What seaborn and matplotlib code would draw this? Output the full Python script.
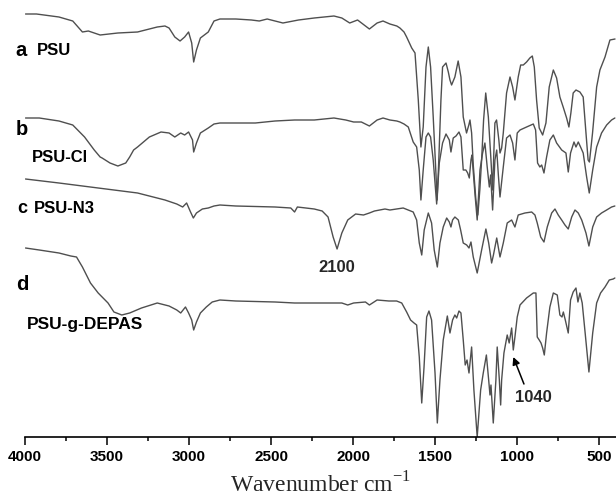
import matplotlib
matplotlib.use("Agg")
import matplotlib.pyplot as plt
import seaborn as sns

# ---------------- data (wavenumber cm-1, stacked-offset depth; larger = lower on page) -------------
a_wn = [3997, 3930, 3793, 3709, 3650, 3614, 3578, 3542, 3434, 3314,
        3194, 3147, 3122, 3087, 3055, 3027, 3003, 2984, 2972, 2955,
        2931, 2883, 2848, 2812, 2715, 2620, 2572, 2524, 2428, 2333,
        2237, 2117, 2069, 2021, 1973, 1901, 1854, 1818, 1776, 1734,
        1715, 1690, 1674, 1643, 1623, 1603, 1587, 1573, 1556, 1542,
        1528, 1512, 1495, 1488, 1478, 1465, 1455, 1434, 1420, 1410,
        1400, 1380, 1360, 1343, 1329, 1309, 1295, 1288, 1278, 1268,
        1252, 1240, 1228, 1217, 1205, 1192, 1176, 1160, 1150, 1142,
        1136, 1126, 1112, 1105, 1095, 1085, 1065, 1044, 1028, 1014,
        994, 979, 963, 943, 923, 908, 896, 882, 866, 845,
        825, 805, 780, 760, 740, 720, 699, 685, 673, 659,
        642, 618, 598, 581, 568, 560, 552, 541, 516, 496,
        465, 435, 404]
a_depth = [14, 14, 17, 21, 32, 31, 33, 35, 33, 32,
           27, 26, 28, 37, 41, 37, 32, 43, 62, 50,
           38, 32, 21, 19, 19, 20, 21, 19, 23, 20,
           18, 16, 18, 23, 20, 29, 23, 21, 24, 26,
           28, 32, 37, 48, 53, 100, 147, 127, 67, 47,
           67, 117, 175, 200, 160, 100, 67, 63, 72, 80,
           85, 77, 61, 77, 117, 133, 125, 120, 133, 165,
           200, 215, 190, 160, 120, 93, 117, 160, 190, 150,
           123, 120, 140, 153, 148, 133, 93, 77, 87, 100,
           77, 65, 65, 62, 58, 56, 67, 100, 128, 135,
           123, 87, 70, 78, 97, 107, 118, 127, 113, 93,
           90, 92, 97, 133, 160, 162, 150, 133, 87, 70,
           57, 40, 39]

b_wn = [3997, 3913, 3793, 3709, 3637, 3578, 3542, 3530, 3482, 3434,
        3386, 3362, 3338, 3314, 3242, 3171, 3122, 3087, 3051, 3027,
        3003, 2979, 2972, 2955, 2931, 2883, 2848, 2812, 2715, 2596,
        2476, 2357, 2237, 2117, 2045, 1997, 1950, 1901, 1854, 1818,
        1776, 1734, 1715, 1690, 1664, 1634, 1613, 1597, 1587, 1573,
        1556, 1542, 1528, 1512, 1491, 1475, 1455, 1434, 1414, 1404,
        1390, 1373, 1355, 1343, 1329, 1313, 1302, 1292, 1282, 1276,
        1258, 1244, 1227, 1211, 1197, 1183, 1170, 1162, 1150, 1136,
        1125, 1115, 1105, 1085, 1065, 1044, 1028, 1014, 1000, 983,
        943, 902, 888, 876, 862, 851, 837, 821, 801, 780,
        760, 729, 703, 689, 675, 654, 642, 628, 614, 598,
        577, 561, 540, 516, 486, 455, 425, 405]
b_depth = [118, 118, 121, 125, 137, 150, 157, 158, 163, 166,
           163, 157, 150, 147, 137, 132, 133, 137, 133, 135,
           132, 140, 152, 143, 133, 128, 124, 123, 123, 123,
           121, 120, 120, 118, 120, 122, 122, 126, 120, 118,
           120, 121, 122, 124, 127, 142, 147, 170, 200, 170,
           137, 133, 137, 160, 204, 163, 143, 134, 140, 152,
           138, 136, 132, 137, 170, 170, 173, 178, 160, 155,
           193, 220, 170, 153, 143, 167, 187, 175, 210, 160,
           150, 175, 197, 167, 138, 135, 143, 160, 133, 130,
           127, 124, 130, 163, 167, 165, 173, 157, 140, 135,
           143, 150, 153, 172, 153, 142, 147, 142, 147, 153,
           177, 193, 170, 147, 133, 125, 120, 118]

c_wn = [3997, 3793, 3554, 3314, 3147, 3075, 3039, 3015, 2991, 2974,
        2955, 2919, 2883, 2848, 2812, 2715, 2476, 2380, 2357, 2340,
        2237, 2189, 2153, 2122, 2098, 2069, 2033, 1985, 1937, 1901,
        1870, 1806, 1776, 1695, 1634, 1613, 1597, 1582, 1567, 1542,
        1522, 1506, 1487, 1471, 1451, 1430, 1414, 1404, 1394, 1380,
        1359, 1345, 1329, 1308, 1294, 1282, 1268, 1244, 1217, 1191,
        1174, 1156, 1145, 1125, 1105, 1085, 1061, 1034, 1014, 994,
        953, 912, 892, 878, 857, 837, 817, 790, 770, 750,
        729, 709, 689, 668, 648, 628, 607, 581, 563, 540,
        516, 486, 455, 425, 405]
c_depth = [179, 183, 188, 193, 200, 204, 207, 203, 212, 218,
           213, 209, 208, 206, 205, 206, 207, 208, 212, 207,
           209, 211, 217, 237, 249, 233, 220, 214, 215, 213,
           211, 209, 210, 208, 212, 220, 243, 255, 230, 213,
           223, 250, 267, 243, 227, 218, 222, 227, 220, 217,
           220, 230, 243, 245, 248, 242, 257, 273, 250, 229,
           243, 263, 255, 238, 257, 243, 223, 220, 227, 215,
           213, 212, 215, 223, 237, 242, 227, 213, 209, 215,
           220, 225, 229, 217, 210, 213, 220, 233, 246, 227,
           217, 213, 210, 207, 206]

d_wn = [3997, 3913, 3793, 3721, 3686, 3650, 3601, 3554, 3494, 3458,
        3410, 3362, 3290, 3194, 3122, 3075, 3051, 3022, 3003, 2984,
        2972, 2955, 2931, 2895, 2859, 2812, 2715, 2476, 2357, 2237,
        2069, 2033, 1997, 1925, 1901, 1854, 1782, 1735, 1704, 1674,
        1650, 1629, 1613, 1597, 1582, 1568, 1552, 1538, 1522, 1501,
        1487, 1471, 1451, 1426, 1410, 1394, 1380, 1369, 1355, 1343,
        1329, 1317, 1306, 1294, 1278, 1264, 1244, 1223, 1207, 1188,
        1174, 1166, 1160, 1146, 1130, 1122, 1109, 1101, 1095, 1081,
        1061, 1049, 1034, 1024, 1014, 1000, 983, 943, 902, 886,
        878, 866, 855, 845, 835, 821, 801, 780, 756, 740,
        727, 719, 707, 689, 675, 659, 642, 630, 618, 604,
        586, 563, 540, 516, 492, 465, 439, 415, 405]
d_depth = [248, 250, 253, 256, 257, 267, 283, 293, 303, 312,
           315, 313, 308, 303, 306, 310, 313, 307, 313, 320,
           330, 322, 313, 307, 302, 300, 301, 302, 303, 303,
           303, 305, 303, 302, 305, 300, 301, 301, 303, 312,
           320, 323, 325, 357, 403, 367, 317, 311, 320, 373,
           423, 380, 340, 316, 333, 320, 315, 318, 311, 313,
           340, 365, 360, 373, 347, 390, 437, 390, 373, 355,
           380, 395, 385, 423, 380, 347, 380, 405, 380, 353,
           335, 343, 328, 350, 337, 317, 305, 298, 293, 293,
           337, 340, 343, 348, 355, 333, 307, 293, 295, 315,
           317, 312, 320, 333, 300, 292, 288, 302, 293, 303,
           333, 372, 333, 303, 293, 287, 280, 279, 278]

major_ticks = [4000, 3500, 3000, 2500, 2000, 1500, 1000, 500]
minor_ticks = [3750, 3250, 2750, 2250, 1750, 1250, 750]

# ---------------- figure -------------
sns.set_style("white")
plt.rcParams["font.family"] = ["Liberation Sans", "DejaVu Sans"]

W, H = 616, 498
fig = plt.figure(figsize=(W / 100, H / 100), dpi=100)
ax_bottom = 437.3
ax = fig.add_axes([25 / W, (H - ax_bottom) / H, (W - 25) / W, ax_bottom / H])

line_color = "#4f4f4f"
for wn, dep in [(a_wn, a_depth), (b_wn, b_depth), (c_wn, c_depth), (d_wn, d_depth)]:
    sns.lineplot(x=wn, y=dep, ax=ax, color=line_color, linewidth=1.0,
                 estimator=None, sort=False)
for ln in ax.lines:
    ln.set_solid_joinstyle("round")

ax.set_xlim(4000, 398)
ax.set_ylim(ax_bottom, 0)

for s in ["left", "top", "right"]:
    ax.spines[s].set_visible(False)
ax.spines["bottom"].set_linewidth(1.2)
ax.spines["bottom"].set_color("black")
ax.set_yticks([])
ax.set_xticks(major_ticks)
ax.set_xticks(minor_ticks, minor=True)
ax.set_xticklabels([str(t) for t in major_ticks], fontsize=11, fontweight="bold")
ax.tick_params(axis="x", which="major", direction="out", length=6, width=1.1,
               pad=3, bottom=True, colors="black")
ax.tick_params(axis="x", which="minor", direction="out", length=3, width=1.1,
               bottom=True, colors="black")
ax.set_xlabel(r"Wavenumber cm$^{\mathregular{-1}}$", fontsize=17,
              family="Liberation Serif", labelpad=6)

bold = dict(fontweight="bold", color="black", va="center", ha="left", clip_on=False)
ax.text(4057, 50, "a", fontsize=14.5, **bold)
ax.text(3930, 50, "PSU", fontsize=12, **bold)
ax.text(4057, 129, "b", fontsize=14.5, **bold)
ax.text(3961, 157, "PSU-Cl", fontsize=12, **bold)
ax.text(4050, 208, "c", fontsize=13, **bold)
ax.text(3945, 208, "PSU-N3", fontsize=12, **bold)
ax.text(4057, 284, "d", fontsize=14.5, **bold)
ax.text(3990, 324, "PSU-g-DEPAS", fontsize=12.5, **bold)
ax.text(2102, 267, "2100", fontsize=12, fontweight="bold", ha="center", va="center")
ax.text(902, 397, "1040", fontsize=12, fontweight="bold", ha="center", va="center")
ax.annotate("", xy=(1024, 357), xytext=(959, 384),
            arrowprops=dict(arrowstyle="-|>", color="black", lw=1.1,
                            shrinkA=0, shrinkB=0, mutation_scale=11))

fig.savefig("out.png", dpi=100)
